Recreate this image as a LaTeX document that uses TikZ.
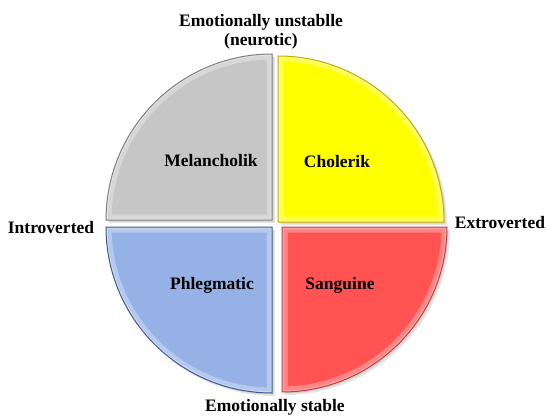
\documentclass[tikz,border=0pt]{standalone}
\usepackage{fontspec}
\setmainfont{Liberation Serif}
\begin{document}
\begin{tikzpicture}[x=1pt,y=1pt,
  lbl/.style={font=\bfseries\fontsize{17.5}{18.5}\selectfont, text=black, align=center, inner sep=0pt},
  edge/.style={line width=1pt},
]
\definecolor{greyF}{HTML}{C6C6C6}\definecolor{greyD}{HTML}{7F7F7F}
\definecolor{yelF}{HTML}{FFFF00}\definecolor{yelD}{HTML}{C9A800}
\definecolor{bluF}{HTML}{95B1E6}\definecolor{bluD}{HTML}{3A5A94}
\definecolor{redF}{HTML}{FF5252}\definecolor{redD}{HTML}{C23A3A}
\useasboundingbox (0,0) rectangle (546,416);

% quadrant outlines
\def\qmel{(272,196) -- (106,196) arc[start angle=180,end angle=90,radius=166] -- cycle}
\def\qcho{(278,194) -- (278,360) arc[start angle=90,end angle=0,radius=166] -- cycle}
\def\qphl{(272,189) -- (106,189) arc[start angle=180,end angle=270,radius=166] -- cycle}
\def\qsan{(282,189) -- (447,189) arc[start angle=0,end angle=-90,radius=165] -- cycle}

% bevelled quadrants: soft shadow, fill, light inner rim, dark edge
\foreach \p/\f/\d in {\qmel/greyF/greyD,\qcho/yelF/yelD,\qphl/bluF/bluD,\qsan/redF/redD}{
  \fill[black,opacity=0.10] [shift={(3,-3)}] \p;
  \fill[black,opacity=0.08] [shift={(1.5,-1.5)}] \p;
  \fill[\f] \p;
  \begin{scope}
    \clip \p;
    \draw[white,opacity=0.30,line width=11pt] \p;
    \draw[white,opacity=0.35,line width=3pt] \p;
  \end{scope}
  \draw[\d,edge] \p;
}

\node[lbl] (top) at (261,384) {Emotionally unstablle\\(neurotic)};
\node[lbl] (left) at (51,188) {Introverted};
\node[lbl] (right) at (500,193) {Extroverted};
\node[lbl,anchor=south] (bot) at (275,1) {Emotionally stable};
\node[lbl] (mel) at (211,255) {Melancholik};
\node[lbl] (cho) at (337,254) {Cholerik};
\node[lbl] (phl) at (212,131) {Phlegmatic};
\node[lbl] (san) at (340,131) {Sanguine};
\end{tikzpicture}
\end{document}
